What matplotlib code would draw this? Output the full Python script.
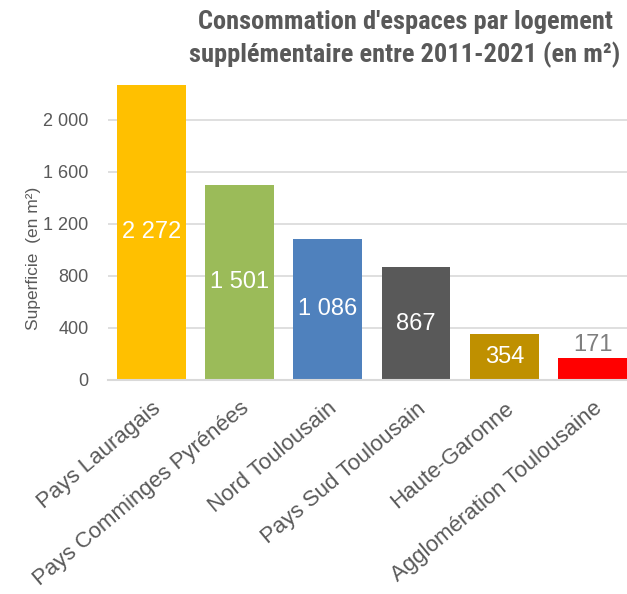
import matplotlib.pyplot as plt
from matplotlib import font_manager as fm

# data
territoires = ['Pays Lauragais', 'Pays Comminges Pyrénées', 'Nord Toulousain',
               'Pays Sud Toulousain', 'Haute-Garonne', 'Agglomération Toulousaine']
superficie = [2272, 1501, 1086, 867, 354, 171]
couleurs = ['#FFC000', '#9BBB59', '#4F81BD', '#595959', '#BF9000', '#FF0000']
yticks = [0, 400, 800, 1200, 1600, 2000]

names = {f.name for f in fm.fontManager.ttflist}
plt.rcParams['font.family'] = ['Liberation Sans', 'DejaVu Sans']
title_font = [n for n in ['Roboto Condensed', 'Roboto', 'Inter'] if n in names][:1] + ['DejaVu Sans']

fig = plt.figure(figsize=(6.27, 5.94), dpi=100)
ax = fig.add_axes([108/627, 0.3603, 1 - 108/627, 0.5])

x = range(len(territoires))
ax.bar(x, superficie, width=0.78, color=couleurs, zorder=2)

def fmt(v):
    return f'{v:,}'.replace(',', ' ')

for i, v in enumerate(superficie):
    if v > 300:
        ax.text(i, v / 2, fmt(v), ha='center', va='center', color='white', fontsize=17)
    else:
        ax.text(i, v + 10, fmt(v), ha='center', va='bottom', color='#7F7F7F', fontsize=17)

ax.set_xlim(-0.49, 5.39)
ax.set_ylim(0, 2284)
ax.set_yticks(yticks)
ax.set_yticklabels([fmt(t) for t in yticks], color='#595959', fontsize=13)
ax.yaxis.grid(True, color='#D9D9D9', linewidth=1.2, zorder=0)
ax.set_axisbelow(True)
ax.tick_params(axis='y', length=0, pad=14)
ax.tick_params(axis='x', length=0, pad=13)
ax.set_xticks(list(x))
ax.set_xticklabels(territoires, rotation=40, ha='right', rotation_mode='anchor',
                   color='#595959', fontsize=16)
for s in ['top', 'right', 'left']:
    ax.spines[s].set_visible(False)
ax.spines['bottom'].set_color('#D9D9D9')
ax.spines['bottom'].set_linewidth(1.5)
ax.set_ylabel('Superficie  (en m²)', color='#595959', fontsize=12.5, va='center')
ax.yaxis.set_label_coords(-0.1445, 0.41)

fig.text(405/627, 1 - 22/594, "Consommation d'espaces par logement", ha='center', va='center',
         fontsize=19, fontweight='black', color='#595959', family=title_font)
fig.text(405/627, 1 - 55/594, 'supplémentaire entre 2011-2021 (en m²)', ha='center', va='center',
         fontsize=19, fontweight='black', color='#595959', family=title_font)

fig.savefig('out.png', dpi=100)
